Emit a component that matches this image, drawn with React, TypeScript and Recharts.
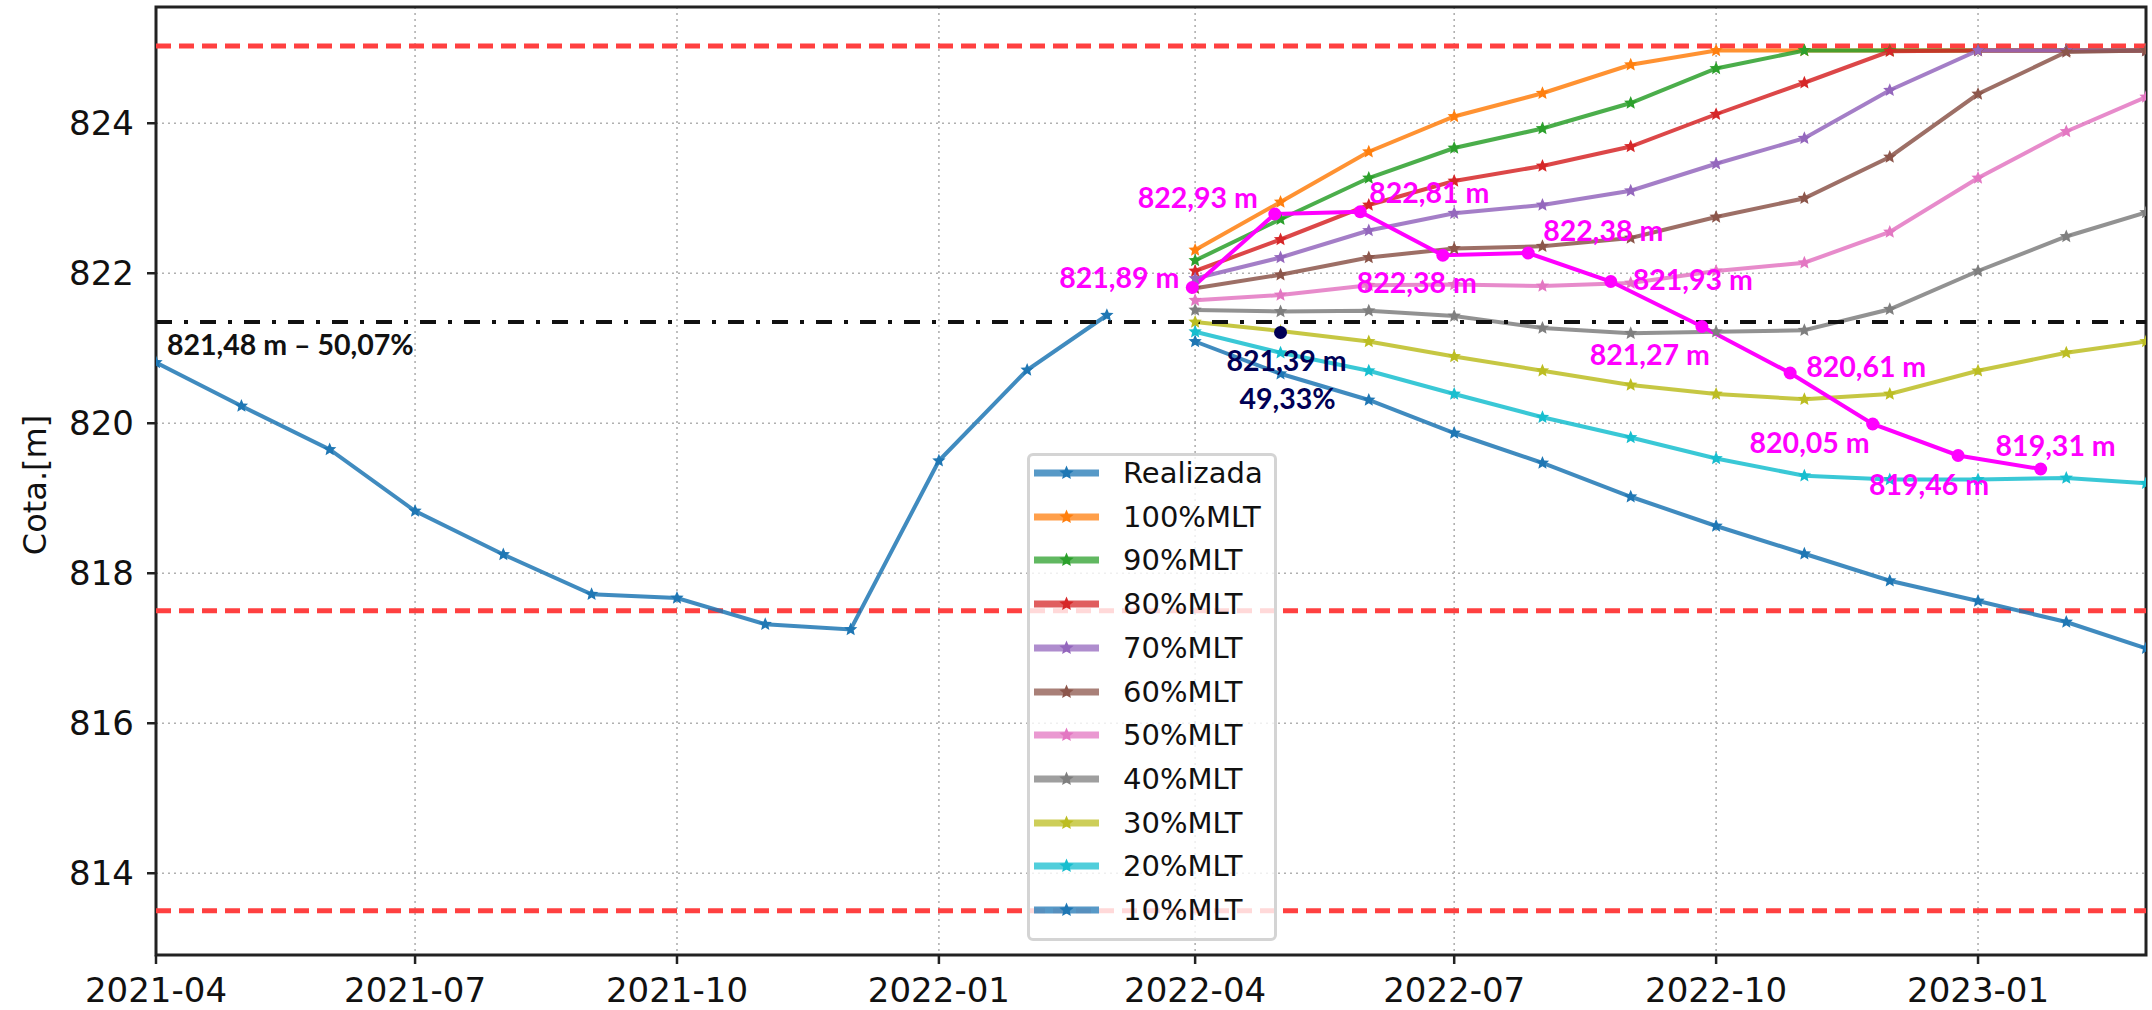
import React from 'react';
import {
	CartesianGrid,
	LabelList,
	Line,
	LineChart,
	ReferenceArea,
	ReferenceLine,
	XAxis,
	YAxis,
} from 'recharts';

// historical level (start of each month)
const realizadaDates = [
	'2021-04-01', '2021-05-01', '2021-06-01', '2021-07-01', '2021-08-01', '2021-09-01',
	'2021-10-01', '2021-11-01', '2021-12-01', '2022-01-01', '2022-02-01', '2022-03-01',
];
const realizada = [820.81, 820.23, 819.65, 818.83, 818.25, 817.72, 817.67, 817.32, 817.25, 819.5, 820.71, 821.44];

// projections by inflow scenario
const scenarioDates = [
	'2022-04-01', '2022-05-01', '2022-06-01', '2022-07-01', '2022-08-01', '2022-09-01',
	'2022-10-01', '2022-11-01', '2022-12-01', '2023-01-01', '2023-02-01', '2023-03-01',
];
const mlt100 = [822.31, 822.95, 823.62, 824.09, 824.4, 824.78, 824.97, 824.97, 824.97, 824.97, 824.97, 824.97];
const mlt90 = [822.17, 822.72, 823.27, 823.67, 823.93, 824.27, 824.73, 824.97, 824.97, 824.97, 824.97, 824.97];
const mlt80 = [822.03, 822.45, 822.91, 823.23, 823.43, 823.69, 824.12, 824.54, 824.96, 824.97, 824.97, 824.97];
const mlt70 = [821.93, 822.21, 822.57, 822.8, 822.91, 823.1, 823.46, 823.8, 824.44, 824.97, 824.97, 824.97];
const mlt60 = [821.8, 821.98, 822.21, 822.33, 822.36, 822.47, 822.75, 823.0, 823.55, 824.39, 824.95, 824.97];
const mlt50 = [821.64, 821.71, 821.84, 821.85, 821.83, 821.87, 822.03, 822.14, 822.55, 823.27, 823.89, 824.35];
const mlt40 = [821.51, 821.49, 821.5, 821.43, 821.27, 821.2, 821.22, 821.24, 821.52, 822.03, 822.49, 822.81];
const mlt30 = [821.35, 821.23, 821.09, 820.89, 820.7, 820.51, 820.39, 820.32, 820.39, 820.7, 820.94, 821.09];
const mlt20 = [821.22, 820.94, 820.7, 820.39, 820.08, 819.81, 819.53, 819.3, 819.25, 819.25, 819.27, 819.2];
const mlt10 = [821.09, 820.66, 820.31, 819.87, 819.47, 819.02, 818.63, 818.26, 817.9, 817.63, 817.35, 817.0];

// annotated (magenta) path
const magentaDates = [
	'2022-03-31', '2022-04-29', '2022-05-29', '2022-06-27', '2022-07-27', '2022-08-25',
	'2022-09-26', '2022-10-27', '2022-11-25', '2022-12-25', '2023-01-23',
];
const magentaValues = [821.81, 822.79, 822.82, 822.24, 822.27, 821.89, 821.29, 820.67, 819.99, 819.57, 819.39];
const magentaLabels = [
	'821,89 m', '822,93 m', '822,81 m', '822,38 m', '822,38 m', '821,93 m',
	'821,27 m', '820,61 m', '820,05 m', '819,46 m', '819,31 m',
];

const navyDate = '2022-05-01';
const navyValue = 821.21;
const navyLabels = ['821,39 m', '49,33%'];

const refLevel = 821.35;
const refLabel = '821,48 m – 50,07%';
const limitLevels = [825.03, 817.5, 813.5];

const yTicks = [814, 816, 818, 820, 822, 824];
const xTickDates = ['2021-04-01', '2021-07-01', '2021-10-01', '2022-01-01', '2022-04-01', '2022-07-01', '2022-10-01', '2023-01-01'];

const ts = (d: string) => Date.parse(d + 'T00:00:00Z');
const X0 = ts('2021-04-01');
const X1 = ts('2023-03-01');
const Y0 = 812.91;
const Y1 = 825.55;

const labelFont = 'Lato, "Open Sans", sans-serif';
const tickFont = '"DejaVu Sans", sans-serif';
const magenta = '#ff00ff';
const navy = '#000055';

// [textAnchor, dx, dy] for each magenta label, relative to its point
const magentaOffsets: [string, number, number][] = [
	['end', -13, 0],
	['end', -17, -6],
	['start', 9, -9],
	['middle', -26, 38],
	['start', 15, -12],
	['start', 22, 8],
	['end', 8, 38],
	['start', 16, 4],
	['end', -3, 29],
	['middle', -29, 39],
	['middle', 15, -13],
];

const series = [
	{ name: 'Realizada', color: '#1f77b4', dates: realizadaDates, values: realizada },
	{ name: '100%MLT', color: '#ff7f0e', dates: scenarioDates, values: mlt100 },
	{ name: '90%MLT', color: '#2ca02c', dates: scenarioDates, values: mlt90 },
	{ name: '80%MLT', color: '#d62728', dates: scenarioDates, values: mlt80 },
	{ name: '70%MLT', color: '#9467bd', dates: scenarioDates, values: mlt70 },
	{ name: '60%MLT', color: '#8c564b', dates: scenarioDates, values: mlt60 },
	{ name: '50%MLT', color: '#e377c2', dates: scenarioDates, values: mlt50 },
	{ name: '40%MLT', color: '#7f7f7f', dates: scenarioDates, values: mlt40 },
	{ name: '30%MLT', color: '#bcbd22', dates: scenarioDates, values: mlt30 },
	{ name: '20%MLT', color: '#17becf', dates: scenarioDates, values: mlt20 },
	{ name: '10%MLT', color: '#1f77b4', dates: scenarioDates, values: mlt10 },
];

function starPath(cx: number, cy: number, R = 7, r = 3.2) {
	let d = '';
	for (let k = 0; k < 10; k++) {
		const a = ((-90 + k * 36) * Math.PI) / 180;
		const rad = k % 2 ? r : R;
		d += (k === 0 ? 'M' : 'L') + (cx + rad * Math.cos(a)).toFixed(2) + ',' + (cy + rad * Math.sin(a)).toFixed(2);
	}
	return d + 'Z';
}

const fmtMonth = (v: number) => new Date(v).toISOString().slice(0, 7);

function Legend() {
	return (
		<div
			style={{
				position: 'absolute',
				left: 1027,
				top: 453,
				width: 250,
				height: 488,
				boxSizing: 'border-box',
				border: '3px solid #d4d4d4',
				borderRadius: 6,
				background: 'rgba(255,255,255,0.8)',
			}}
		>
			{series.map((s, i) => (
				<div key={s.name} style={{ position: 'absolute', left: 0, top: i * 43.7 - 3, height: 40, width: 244 }}>
					<svg width={70} height={40} style={{ position: 'absolute', left: 4, top: 0 }}>
						<line x1={0} y1={20} x2={65} y2={20} stroke={s.color} strokeOpacity={0.75} strokeWidth={7} />
						<path d={starPath(32.5, 20, 7.5, 3.4)} fill={s.color} />
					</svg>
					<span
						style={{
							position: 'absolute',
							left: 93,
							top: 0,
							lineHeight: '40px',
							fontSize: 29,
							fontFamily: tickFont,
							color: '#111',
							whiteSpace: 'nowrap',
						}}
					>
						{s.name}
					</span>
				</div>
			))}
		</div>
	);
}

export default function App() {
	const magentaRows = magentaDates.map((d, i) => ({ t: ts(d), v: magentaValues[i], label: magentaLabels[i] }));
	const navyRows = [{ t: ts(navyDate), v: navyValue, label: navyLabels[0] }];

	return (
		<div style={{ position: 'absolute', left: 0, top: 0, width: 2152, height: 1010, background: '#fff' }}>
			<LineChart width={2152} height={1010} margin={{ top: 7, right: 6, bottom: 0, left: 56 }}>
				<CartesianGrid strokeDasharray="2 4" stroke="#b0b0b0" strokeWidth={1.6} />
				<XAxis
					dataKey="t"
					type="number"
					domain={[X0, X1]}
					allowDataOverflow
					ticks={xTickDates.map(ts)}
					tickFormatter={fmtMonth}
					height={55}
					axisLine={false}
					tickSize={9}
					tickMargin={14}
					tickLine={{ stroke: '#222', strokeWidth: 2.5 }}
					tick={{ fontSize: 34, fill: '#111', fontFamily: tickFont }}
				/>
				<YAxis
					type="number"
					domain={[Y0, Y1]}
					allowDataOverflow
					ticks={yTicks}
					width={100}
					axisLine={false}
					tickSize={9}
					tickMargin={13}
					tickLine={{ stroke: '#222', strokeWidth: 2.5 }}
					tick={{ fontSize: 34, fill: '#111', fontFamily: tickFont }}
					label={{
						content: () => (
							<text
								x={35}
								y={485}
								transform="rotate(-90 35 485)"
								textAnchor="middle"
								dominantBaseline="central"
								fontSize={32}
								fontFamily={tickFont}
								fill="#111"
							>
								Cota.[m]
							</text>
						),
					}}
				/>
				{limitLevels.map((y) => (
					<ReferenceLine key={y} y={y} stroke="#ff4040" strokeWidth={5} strokeDasharray="15 8" />
				))}
				{series.map((s) => (
					<Line
						key={s.name}
						data={s.dates.map((d, i) => ({ t: ts(d), v: s.values[i] }))}
						dataKey="v"
						type="linear"
						stroke={s.color}
						strokeOpacity={0.85}
						strokeWidth={4}
						dot={(p: any) => <path key={p.index} d={starPath(p.cx, p.cy)} fill={s.color} />}
						activeDot={false}
						isAnimationActive={false}
						legendType="none"
					/>
				))}
				<ReferenceLine
					y={refLevel}
					stroke="#111"
					strokeWidth={4}
					strokeDasharray="16 12 4 12"
					label={{
						content: (p: any) => (
							<text
								x={p.viewBox.x + 11}
								y={p.viewBox.y + 33}
								fontSize={28.5}
								fontWeight={700}
								fontFamily={labelFont}
								fill="#111"
							>
								{refLabel}
							</text>
						),
					}}
				/>
				<Line
					data={magentaRows}
					dataKey="v"
					type="linear"
					stroke={magenta}
					strokeWidth={4}
					dot={{ r: 6.5, fill: magenta, stroke: 'none' }}
					activeDot={false}
					isAnimationActive={false}
				>
					<LabelList
						dataKey="label"
						content={(p: any) => {
							const o = magentaOffsets[p.index] || ['start', 0, 0];
							return (
								<text
									x={p.x + o[1]}
									y={p.y + o[2]}
									textAnchor={o[0] as any}
									fontSize={28.5}
									fontWeight={700}
									fontFamily={labelFont}
									fill={magenta}
								>
									{p.value}
								</text>
							);
						}}
					/>
				</Line>
				<Line
					data={navyRows}
					dataKey="v"
					type="linear"
					stroke="none"
					dot={{ r: 6.5, fill: navy, stroke: 'none' }}
					activeDot={false}
					isAnimationActive={false}
				>
					<LabelList
						dataKey="label"
						content={(p: any) => (
							<g fontSize={28.5} fontWeight={700} fontFamily={labelFont} fill={navy} textAnchor="middle">
								<text x={p.x + 6} y={p.y + 38}>{navyLabels[0]}</text>
								<text x={p.x + 7} y={p.y + 76}>{navyLabels[1]}</text>
							</g>
						)}
					/>
				</Line>
				<ReferenceArea x1={X0} x2={X1} y1={Y0} y2={Y1} fill="none" stroke="#222" strokeWidth={3} />
			</LineChart>
			<Legend />
		</div>
	);
}
